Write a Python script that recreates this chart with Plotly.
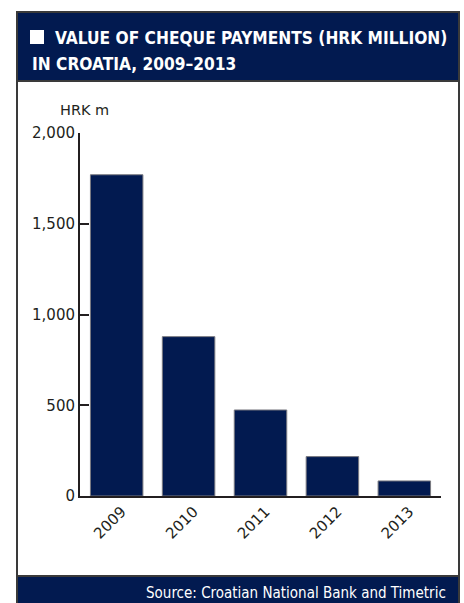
import plotly.graph_objects as go

# Value of cheque payments in Croatia (HRK million)
years = ["2009", "2010", "2011", "2012", "2013"]
values = [1770, 878, 474, 217, 83]
y_ticks = [0, 500, 1000, 1500, 2000]
y_tick_labels = ["0", "500", "1,000", "1,500", "2,000"]

W, H = 464, 603
NAVY = "#021a50"
BORDER = "#3a3a3a"
TEXT = "#231f20"
COND = "DejaVu Sans Condensed, Arial Narrow, sans-serif"


def px(x):
    return x / W


def py(y):
    return 1 - y / H


fig = go.Figure()
fig.add_trace(go.Bar(
    x=years,
    y=values,
    width=0.73,
    marker=dict(color=NAVY, line=dict(color="#7a7a80", width=1)),
    hoverinfo="x+y",
))

shapes = [
    # panel body with border
    dict(type="rect", xref="paper", yref="paper",
         x0=px(17), x1=px(459), y0=py(603), y1=py(12),
         fillcolor="white", line=dict(color=BORDER, width=2), layer="below"),
    # header band
    dict(type="rect", xref="paper", yref="paper",
         x0=px(17), x1=px(459), y0=py(81), y1=py(12),
         fillcolor=NAVY, line=dict(color=BORDER, width=2), layer="below"),
    # footer band
    dict(type="rect", xref="paper", yref="paper",
         x0=px(17), x1=px(459), y0=py(610), y1=py(576),
         fillcolor=NAVY, line=dict(color=BORDER, width=2), layer="below"),
    # white square marker in the title
    dict(type="rect", xref="paper", yref="paper",
         x0=px(30), x1=px(44), y0=py(44), y1=py(30),
         fillcolor="white", line=dict(width=0)),
]

title_font = dict(family=COND, size=17.2, color="white")

annotations = [
    dict(text="<b>VALUE OF CHEQUE PAYMENTS (HRK MILLION)</b>", xref="paper", yref="paper",
         x=px(53), y=py(38), xanchor="left", yanchor="middle", showarrow=False, font=title_font),
    dict(text="<b>IN CROATIA, 2009–2013</b>", xref="paper", yref="paper",
         x=px(30), y=py(64), xanchor="left", yanchor="middle", showarrow=False, font=title_font),
    dict(text="HRK m", xref="paper", yref="paper",
         x=px(84), y=py(110), xanchor="center", yanchor="middle", showarrow=False,
         font=dict(family="DejaVu Sans, Verdana, sans-serif", size=14.5, color=TEXT)),
    dict(text="Source: Croatian National Bank and Timetric", xref="paper", yref="paper",
         x=px(448), y=py(593), xanchor="right", yanchor="middle", showarrow=False,
         font=dict(family=COND, size=15, color="white")),
]

fig.update_layout(
    width=W, height=H,
    margin=dict(l=0, r=0, t=0, b=0, autoexpand=False),
    paper_bgcolor="white",
    plot_bgcolor="rgba(0,0,0,0)",
    showlegend=False,
    shapes=shapes,
    annotations=annotations,
    font=dict(family="DejaVu Sans, Verdana, sans-serif", size=15, color=TEXT),
    xaxis=dict(
        domain=[px(80), px(441)],
        range=[-0.51, 4.51],
        type="category",
        showline=True, linecolor=TEXT, linewidth=2,
        ticks="", showgrid=False, zeroline=False,
        tickangle=-45,
        tickfont=dict(size=15, color=TEXT),
        ticklabelstandoff=-1,
        ticklabelshift=5,
        automargin=False,
    ),
    yaxis=dict(
        domain=[py(496), py(133)],
        range=[0, 2000],
        tickvals=y_ticks, ticktext=y_tick_labels,
        showline=True, linecolor=TEXT, linewidth=2,
        ticks="inside", ticklen=9, tickwidth=2, tickcolor=TEXT,
        showgrid=False, zeroline=False,
        tickfont=dict(size=15, color=TEXT),
        automargin=False,
    ),
)

fig.write_html("out.html")
